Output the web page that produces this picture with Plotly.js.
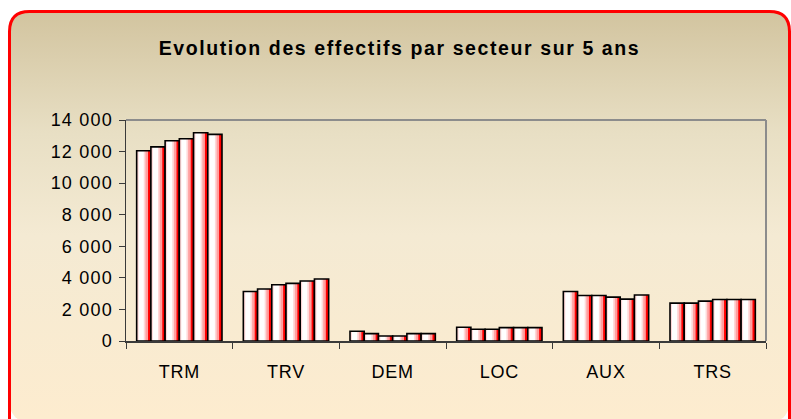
<!DOCTYPE html>
<html>
<head>
<meta charset="utf-8">
<script src="https://cdn.plot.ly/plotly-3.0.1.min.js"></script>
<style>
html,body{margin:0;padding:0;background:#fff;}
#chart{width:791px;height:419px;}
#chart .gtitle{letter-spacing:1.6px;}
#chart .y2tick text{letter-spacing:1.2px;}
#chart .x2tick text{letter-spacing:0.8px;}
</style>
</head>
<body>
<div id="chart"></div>
<script>
// ---- data ----
const categories = ['TRM', 'TRV', 'DEM', 'LOC', 'AUX', 'TRS'];
const seriesNames = ['Année 1', 'Année 2', 'Année 3', 'Année 4', 'Année 5', 'Année 6'];
const year1 = [12050, 3140, 617, 870, 3140, 2400];
const year2 = [12300, 3290, 465, 745, 2885, 2400];
const year3 = [12690, 3565, 318, 745, 2885, 2525];
const year4 = [12810, 3650, 318, 850, 2780, 2630];
const year5 = [13195, 3800, 465, 850, 2650, 2630];
const year6 = [13090, 3925, 465, 850, 2910, 2630];
const yTickVals = [0, 2000, 4000, 6000, 8000, 10000, 12000, 14000];
const titleText = 'Evolution des effectifs par secteur sur 5 ans';

const series = [year1, year2, year3, year4, year5, year6];
const W = 791, H = 419;
const FONT = 'Liberation Sans, Arial, sans-serif';

// ---- background (rounded panel with vertical gradient) ----
function roundedRect(x0, y0, x1, y1, r) {
  const xs = [], ys = [];
  const corner = (cx, cy, a0) => {
    for (let k = 0; k <= 12; k++) {
      const a = (a0 + k * 90 / 12) * Math.PI / 180;
      xs.push(cx + r * Math.cos(a));
      ys.push(cy + r * Math.sin(a));
    }
  };
  corner(x0 + r, y0 + r, 180);
  corner(x1 - r, y0 + r, 270);
  corner(x1 - r, y1 - r, 0);
  corner(x0 + r, y1 - r, 90);
  xs.push(xs[0]); ys.push(ys[0]);
  return {xs, ys};
}
const panel = roundedRect(9.5, 11.5, 789.5, 423, 20);

const traces = [{
  type: 'scatter', x: panel.xs, y: panel.ys, xaxis: 'x', yaxis: 'y',
  mode: 'lines', line: {width: 0, color: 'rgba(0,0,0,0)'},
  fill: 'toself',
  fillgradient: {type: 'vertical', start: 11, stop: 419,
    colorscale: [[0, '#d2c49f'], [0.3, '#e8dfc4'], [0.55, '#f4ead3'], [1, '#fdeccf']]},
  hoverinfo: 'skip', showlegend: false
}];

// ---- bars: each series drawn as layered bars to mimic the shaded fill ----
const groupW = 0.8;
const barW = groupW / series.length;
const layers = [
  {from: 0.0, to: 1.0, color: '#ff0000'},
  {from: 0.0, to: 0.8, color: '#ffa0a0'},
  {from: 0.0, to: 0.62, color: '#ffd8d8'},
  {from: 0.14, to: 0.5, color: '#ffffff'}
];
series.forEach((vals, i) => {
  const base = -groupW / 2 + i * barW;
  layers.forEach(L => {
    traces.push({
      type: 'bar', x: categories, y: vals, name: seriesNames[i],
      xaxis: 'x2', yaxis: 'y2',
      offset: base + L.from * barW, width: (L.to - L.from) * barW,
      marker: {color: L.color, line: {width: 0}},
      hoverinfo: 'skip', showlegend: false
    });
  });
  traces.push({
    type: 'bar', x: categories, y: vals, name: seriesNames[i],
    xaxis: 'x2', yaxis: 'y2',
    offset: base, width: barW,
    marker: {color: 'rgba(0,0,0,0)', line: {width: 1.6, color: '#000000'}},
    hovertemplate: '%{x}: %{y}<extra>' + seriesNames[i] + '</extra>', showlegend: false
  });
});

const layout = {
  width: W, height: H,
  margin: {l: 0, r: 0, t: 0, b: 0},
  paper_bgcolor: '#ffffff', plot_bgcolor: 'rgba(0,0,0,0)',
  barmode: 'overlay',
  separators: ', ',
  showlegend: false,
  font: {family: FONT, color: '#000000'},
  title: {text: '<b>' + titleText + '</b>', x: 0.505, xref: 'paper', xanchor: 'center',
          y: 1 - 48 / H, yref: 'paper', yanchor: 'middle',
          font: {family: FONT, size: 19.5, color: '#000000'}},
  xaxis: {domain: [0, 1], range: [0, W], visible: false, fixedrange: true},
  yaxis: {domain: [0, 1], range: [H, 0], visible: false, fixedrange: true},
  xaxis2: {domain: [126 / W, 766 / W], anchor: 'y2', type: 'category',
           showline: true, linecolor: '#3a3a3a', linewidth: 2,
           ticks: 'outside', tickson: 'boundaries', ticklen: 6, tickcolor: '#3a3a3a', tickwidth: 1,
           ticklabelstandoff: 13,
           tickfont: {family: FONT, size: 18, color: '#000000'},
           showgrid: false, zeroline: false, fixedrange: true},
  yaxis2: {domain: [78 / H, 299 / H], anchor: 'x2', range: [0, 14000],
           tickvals: yTickVals, tickformat: ',d',
           showline: true, linecolor: '#3a3a3a', linewidth: 1.5,
           ticks: 'outside', ticklen: 6, tickcolor: '#3a3a3a', tickwidth: 1,
           ticklabelstandoff: 2,
           tickfont: {family: FONT, size: 18, color: '#000000'},
           showgrid: false, zeroline: false, fixedrange: true},
  shapes: [
    {type: 'line', xref: 'x2 domain', yref: 'y2 domain', x0: 0, x1: 1, y0: 1, y1: 1,
     line: {color: '#8c8c8c', width: 2}},
    {type: 'line', xref: 'x2 domain', yref: 'y2 domain', x0: 1, x1: 1, y0: 0, y1: 1,
     line: {color: '#8c8c8c', width: 2}},
    {type: 'path', xref: 'x', yref: 'y', layer: 'above',
     path: 'M 9.5 423 L 9.5 31.5 Q 9.5 11.5 29.5 11.5 L 769.5 11.5 Q 789.5 11.5 789.5 31.5 L 789.5 423',
     line: {color: '#ff0000', width: 3}, fillcolor: 'rgba(0,0,0,0)'}
  ]
};

Plotly.newPlot('chart', traces, layout, {displayModeBar: false, staticPlot: true});
</script>
</body>
</html>
